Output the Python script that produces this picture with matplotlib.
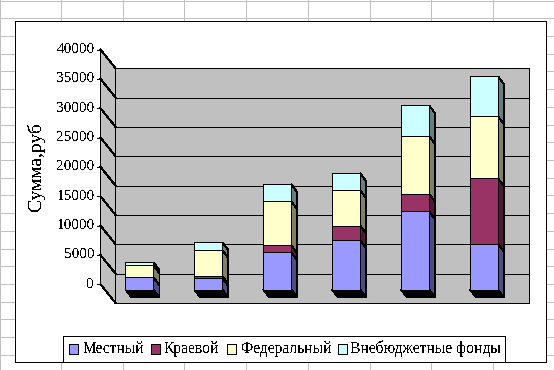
import numpy as np
import matplotlib
matplotlib.use("Agg")
import matplotlib.pyplot as plt
from matplotlib.patches import Polygon, Rectangle

plt.rcParams['font.family'] = ['Liberation Serif', 'DejaVu Serif']
plt.rcParams['text.antialiased'] = False

W, H = 554, 370
# ---- data ----
positions = [0, 1, 2, 3, 4, 5]
local = [2080, 1900, 6340, 8380, 13320, 7800]
regional = [0, 390, 1190, 2490, 3000, 11140]
federal = [2040, 4380, 7500, 6030, 9780, 10560]
offbudget = [510, 1360, 2900, 2900, 5280, 6810]
series_names = ['Местный', 'Краевой', 'Федеральный', 'Внебюджетные фонды']
y_ticks = [0, 5000, 10000, 15000, 20000, 25000, 30000, 35000, 40000]
y_title = 'Сумма,руб'
# ---- styles ----
front_cols = ['#9999FF', '#993366', '#FFFFCC', '#CCFFFF']
side_cols = ['#4D4D80', '#4D1A33', '#808066', '#668080']
PX_X = 68.9            # px per category
PX_Y = 234.8 / 40000   # px per value unit
X0, Y0 = 139.5, 289.5  # pixel of category 0 / value 0 at the bar front


def xd(px):
    return (px - X0) / PX_X


def dyv(px):
    return px / PX_Y


fig = plt.figure(figsize=(W / 100, H / 100), dpi=100, facecolor='white')
ax = fig.add_axes([0, 0, 1, 1])
ax.set_xlim(xd(0), xd(W))
ax.set_ylim(-(H - Y0) / PX_Y, Y0 / PX_Y)
ax.axis('off')
lw = 0.72
AA = False


def fy(px):  # pixel row -> value coordinate
    return (Y0 - px) / PX_Y


# spreadsheet grid
for px in [0.5, 61.5, 123.5, 184.5, 246.5, 307.5, 369.5, 430.5, 492.5]:
    ax.plot([xd(px)] * 2, [fy(0), fy(H)], color='#C0C0C0', lw=lw, aa=AA, zorder=0)
for px in np.arange(0.5, 371, 17.72):
    ax.plot([xd(0), xd(W)], [fy(px)] * 2, color='#C0C0C0', lw=lw, aa=AA, zorder=0)

# chart area
ax.add_patch(Rectangle((xd(15.5), fy(362)), (545.5 - 15.5) / PX_X, (362 - 20.5) / PX_Y,
                       fc='white', ec='black', lw=lw, aa=AA, zorder=1))

# walls: value v sits at y offset on front axis (284.3) and back wall (303)
FX, BX, RX = 100.5, 115.5, 528.5
front0, back0 = 284.3, 303.0
vmax = y_ticks[-1]


def front_y(v):
    return fy(front0) + v


def back_y(v):
    return fy(back0) + v


ax.add_patch(Polygon([(xd(BX), back_y(0)), (xd(RX), back_y(0)), (xd(RX), back_y(vmax)), (xd(BX), back_y(vmax))],
                     fc='#C0C0C0', ec='black', lw=lw, aa=AA, zorder=2))
ax.add_patch(Polygon([(xd(FX), front_y(0)), (xd(BX), back_y(0)), (xd(BX), back_y(vmax)), (xd(FX), front_y(vmax))],
                     fc='#C0C0C0', ec='black', lw=lw, aa=AA, zorder=2))
for v in y_ticks:
    ax.plot([xd(BX), xd(RX)], [back_y(v)] * 2, color='black', lw=lw, aa=AA, zorder=3)
    ax.plot([xd(FX), xd(BX)], [front_y(v), back_y(v)], color='black', lw=lw, aa=AA, zorder=3)
    ax.plot([xd(FX - 3), xd(FX)], [front_y(v)] * 2, color='black', lw=lw, aa=AA, zorder=3)
    ax.text(xd(94.5), front_y(v), str(v), ha='right', va='center', fontsize=11, color='black', zorder=5)

# bars
half = 14 / PX_X
ddx, ddy = 6 / PX_X, dyv(8)
series = [local, regional, federal, offbudget]
bottom = np.zeros(len(positions))
for vals, fc, sc in zip(series, front_cols, side_cols):
    vals = np.array(vals, float)
    ax.bar(positions, vals, width=2 * half, bottom=bottom, color=fc, edgecolor='black',
           lw=lw, aa=AA, zorder=6)
    for p, b, v in zip(positions, bottom, vals):
        r = p + half
        if v > 0:
            ax.add_patch(Polygon([(r, b), (r + ddx, b - ddy), (r + ddx, b + v - ddy), (r, b + v)],
                                 fc=sc, ec='black', lw=lw, aa=AA, zorder=5))
    bottom += vals
for p in positions:
    ax.add_patch(Polygon([(p - half, 0), (p + half, 0), (p + half + ddx, -ddy), (p - half + ddx, -ddy)],
                         fc='black', ec='black', lw=lw, aa=AA, zorder=5))

# axis title
ax.text(xd(36), fy(167), y_title, rotation=90, ha='center', va='center', fontsize=14, color='black', zorder=5)

# legend
ax.add_patch(Rectangle((xd(63.5), fy(362)), (504.5 - 63.5) / PX_X, (362 - 335.5) / PX_Y,
                       fc='white', ec='black', lw=lw, aa=AA, zorder=4))
for name, fc, mx, tx in zip(series_names, front_cols, [69.5, 151.5, 227.5, 337.5], [83, 164, 241, 350]):
    ax.add_patch(Rectangle((xd(mx), fy(354)), 9 / PX_X, 10 / PX_Y, fc=fc, ec='black', lw=lw, aa=AA, zorder=5))
    ax.text(xd(tx), fy(349), name, ha='left', va='center', fontsize=11.2, color='black', zorder=5)

fig.savefig('out.png', dpi=100, facecolor='white')
